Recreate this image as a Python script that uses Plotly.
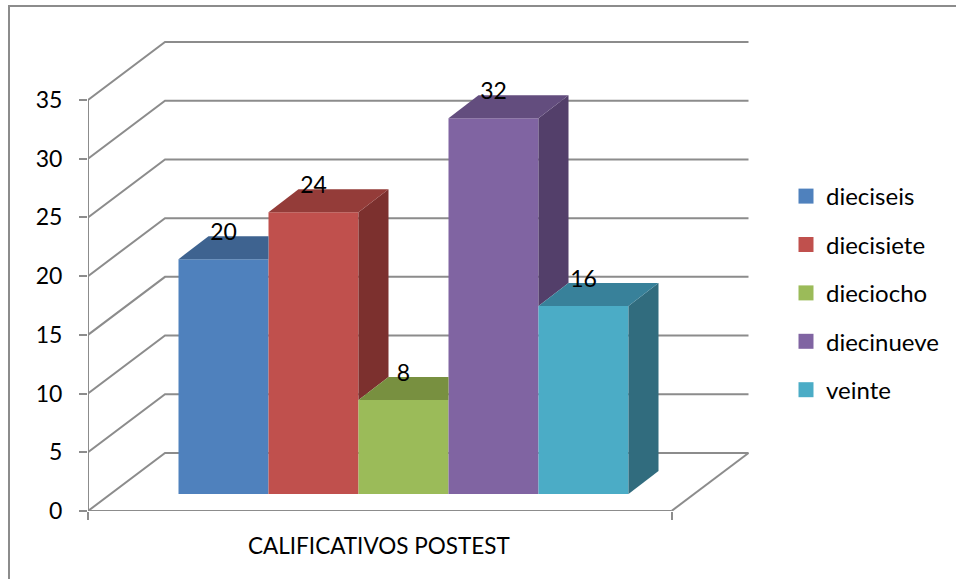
import plotly.graph_objects as go

categories = ["dieciseis", "diecisiete", "dieciocho", "diecinueve", "veinte"]
values = [20, 24, 8, 32, 16]
y_ticks = [0, 5, 10, 15, 20, 25, 30, 35]
axis_title = "CALIFICATIVOS POSTEST"

front_colors = ["#4F81BD", "#C0504D", "#9BBB59", "#8064A2", "#4BACC6"]
top_colors = ["#3E6390", "#943C39", "#789040", "#634D7E", "#38819A"]
side_colors = ["#34547A", "#7C302E", "#65793A", "#533F6A", "#316C7E"]
LINE = "#8C8C8C"
LW = 2
FONT = "Lato, Carlito, Calibri, sans-serif"

# Pseudo-3D geometry in axis units (1 x unit = one bar, 1 y unit = one score)
PLOT_L, PLOT_R, PLOT_T, PLOT_B = 88, 750, 40, 511
PX_X, PX_Y = 90.0, 411 / 35
X_CENTER0 = 223.5
x_min = (PLOT_L - X_CENTER0) / PX_X
x_max = (PLOT_R - X_CENTER0) / PX_X
y_max = (PLOT_B - PLOT_T) / PX_Y
x_front_end = (671.5 - X_CENTER0) / PX_X
wall_dx, wall_dy = 77 / PX_X, 58 / PX_Y
bar_dx, bar_dy = 30 / PX_X, 23 / PX_Y
bar_base = 17 / PX_Y

fig = go.Figure()

# Front faces
for i, (v, c) in enumerate(zip(values, front_colors)):
    fig.add_trace(go.Bar(x=[i], y=[v], base=[bar_base], width=1, showlegend=False,
                         marker=dict(color=c, line=dict(width=0)), hoverinfo="skip"))

# Side and top faces, cut where the next bar stands in front of them
for i, v in enumerate(values):
    nv = values[i + 1] if i + 1 < len(values) else 0
    l, r = i - 0.5, i + 0.5
    t = v + bar_base
    if v > nv:
        n = nv + bar_base
        fig.add_trace(go.Scatter(x=[r, r + bar_dx, r + bar_dx, r, r],
                                 y=[t, t + bar_dy, n + bar_dy, n, t],
                                 mode="lines", fill="toself", fillcolor=side_colors[i],
                                 line=dict(width=0), showlegend=False, hoverinfo="skip"))
        tx = [l, r, r + bar_dx, l + bar_dx, l]
        ty = [t, t, t + bar_dy, t + bar_dy, t]
    else:
        tx = [l, r, r, l + bar_dx, l]
        ty = [t, t, t + bar_dy, t + bar_dy, t]
    fig.add_trace(go.Scatter(x=tx, y=ty, mode="lines", fill="toself", fillcolor=top_colors[i],
                             line=dict(width=0), showlegend=False, hoverinfo="skip"))

# Axis lines
fig.add_trace(go.Scatter(x=[x_min, x_front_end], y=[0, 0], mode="lines", cliponaxis=False,
                         line=dict(color=LINE, width=LW), showlegend=False, hoverinfo="skip"))
fig.add_trace(go.Scatter(x=[x_min, x_min], y=[0, 35], mode="lines", cliponaxis=False,
                         line=dict(color=LINE, width=LW), showlegend=False, hoverinfo="skip"))

# Data labels
fig.add_trace(go.Scatter(x=list(range(len(values))), y=[v + bar_base + 2.15 for v in values],
                         text=[str(v) for v in values], mode="text", cliponaxis=False,
                         textposition="middle center",
                         textfont=dict(family=FONT, size=23, color="#000000"),
                         showlegend=False, hoverinfo="skip"))

# Legend entries
for i, (name, c) in enumerate(zip(categories, front_colors)):
    fig.add_trace(go.Scatter(x=[None], y=[None], mode="markers", name=name, legendgroup=name,
                             marker=dict(symbol="square", size=15, color=c, line=dict(width=0))))

# Back wall and floor lines sit under the bars
shapes = []
for v in y_ticks:
    shapes.append(dict(type="path", layer="below", xref="x", yref="y",
                       path=f"M {x_min} {v} L {x_min + wall_dx} {v + wall_dy} "
                            f"L {x_front_end + wall_dx} {v + wall_dy}",
                       line=dict(color=LINE, width=LW)))
shapes.append(dict(type="line", layer="below", xref="x", yref="y",
                   x0=x_front_end, y0=0, x1=x_front_end + wall_dx, y1=wall_dy,
                   line=dict(color=LINE, width=LW)))
# Chart frame (open past the right and bottom of the picture)
W = PLOT_R - PLOT_L
H = PLOT_B - PLOT_T
shapes.append(dict(type="path", layer="below", xref="paper", yref="paper",
                   path=f"M {(9 - PLOT_L) / W} {(PLOT_B - 585) / H} "
                        f"L {(9 - PLOT_L) / W} {(PLOT_B - 6) / H} "
                        f"L {(962 - PLOT_L) / W} {(PLOT_B - 6) / H}",
                   line=dict(color=LINE, width=LW)))

fig.update_layout(
    width=956, height=579,
    margin=dict(l=PLOT_L, r=956 - PLOT_R, t=PLOT_T, b=579 - PLOT_B, autoexpand=False),
    paper_bgcolor="white", plot_bgcolor="rgba(0,0,0,0)",
    showlegend=True, shapes=shapes,
    font=dict(family=FONT, color="#000000"),
    legend=dict(x=(786 - PLOT_L) / W, y=(PLOT_B - 174) / H, xanchor="left", yanchor="top",
                font=dict(family=FONT, size=24, color="#000000"),
                tracegroupgap=14.2, bgcolor="rgba(0,0,0,0)", borderwidth=0),
    xaxis=dict(range=[x_min, x_max], showgrid=False, zeroline=False, showline=False,
               tickmode="array", tickvals=[x_min, x_front_end], ticktext=["", ""],
               ticks="outside", ticklen=8, tickwidth=LW, tickcolor=LINE),
    yaxis=dict(range=[0, y_max], showgrid=False, zeroline=False, showline=False,
               tickmode="array", tickvals=y_ticks, ticks="outside", ticklen=8,
               tickwidth=LW, tickcolor=LINE, ticklabelstandoff=12,
               tickfont=dict(family=FONT, size=23, color="#000000")),
    annotations=[dict(text=axis_title, xref="x", yref="paper",
                      x=(379 - X_CENTER0) / PX_X, y=(PLOT_B - 545) / H,
                      showarrow=False, xanchor="center", yanchor="middle",
                      font=dict(family=FONT, size=22.5, color="#000000"))],
)

fig.write_html("out.html", post_script="document.body.style.margin='0';",
               config={"displayModeBar": False})
